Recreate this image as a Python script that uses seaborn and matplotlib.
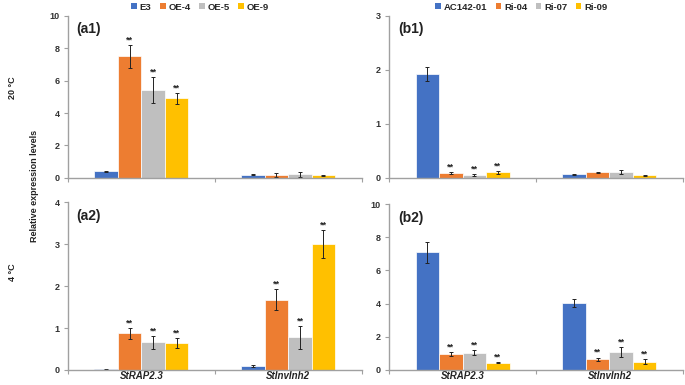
import numpy as np
import pandas as pd
import seaborn as sns
import matplotlib.pyplot as plt
from matplotlib.patches import Patch

sns.set_theme(style="white")
plt.rcParams['font.family'] = ['Liberation Sans', 'DejaVu Sans']

genes = ["StRAP2.3", "StInvInh2"]
lines_a = ["E3", "OE-4", "OE-5", "OE-9"]
lines_b = ["AC142-01", "Ri-04", "Ri-07", "Ri-09"]
colors = ["#4472C4", "#ED7D31", "#BFBFBF", "#FFC000"]

# values[line] = [StRAP2.3, StInvInh2]
a1_mean = {"E3": [0.40, 0.20], "OE-4": [7.50, 0.18], "OE-5": [5.40, 0.22], "OE-9": [4.90, 0.15]}
a1_err = {"E3": [0.05, 0.03], "OE-4": [0.70, 0.15], "OE-5": [0.80, 0.15], "OE-9": [0.35, 0.05]}
a1_sig = {"E3": [False, False], "OE-4": [True, False], "OE-5": [True, False], "OE-9": [True, False]}

a2_mean = {"E3": [0.02, 0.09], "OE-4": [0.87, 1.67], "OE-5": [0.66, 0.78], "OE-9": [0.64, 3.00]}
a2_err = {"E3": [0.01, 0.03], "OE-4": [0.12, 0.25], "OE-5": [0.15, 0.27], "OE-9": [0.12, 0.33]}
a2_sig = {"E3": [False, False], "OE-4": [True, True], "OE-5": [True, True], "OE-9": [True, True]}

b1_mean = {"AC142-01": [1.93, 0.07], "Ri-04": [0.09, 0.10], "Ri-07": [0.06, 0.11], "Ri-09": [0.10, 0.05]}
b1_err = {"AC142-01": [0.13, 0.01], "Ri-04": [0.01, 0.01], "Ri-07": [0.02, 0.03], "Ri-09": [0.03, 0.01]}
b1_sig = {"AC142-01": [False, False], "Ri-04": [True, False], "Ri-07": [True, False], "Ri-09": [True, False]}

b2_mean = {"AC142-01": [7.10, 4.05], "Ri-04": [0.97, 0.65], "Ri-07": [1.05, 1.08], "Ri-09": [0.45, 0.50]}
b2_err = {"AC142-01": [0.63, 0.25], "Ri-04": [0.10, 0.10], "Ri-07": [0.15, 0.30], "Ri-09": [0.05, 0.15]}
b2_sig = {"AC142-01": [False, False], "Ri-04": [True, True], "Ri-07": [True, True], "Ri-09": [True, True]}

fig = plt.figure(figsize=(6.85, 3.85), dpi=100)
pos = {
    "a1": [0.099, 0.538, 0.429, 0.421],
    "b1": [0.568, 0.538, 0.429, 0.421],
    "a2": [0.099, 0.039, 0.429, 0.436],
    "b2": [0.568, 0.039, 0.429, 0.431],
}
spec = {
    "a1": (lines_a, a1_mean, a1_err, a1_sig, 10, 2, True),
    "a2": (lines_a, a2_mean, a2_err, a2_sig, 4, 1, False),
    "b1": (lines_b, b1_mean, b1_err, b1_sig, 3, 1, True),
    "b2": (lines_b, b2_mean, b2_err, b2_sig, 10, 2, False),
}
spine_col = "#A0A0A0"
fs = 6.5
for name, (lines, mean, err, sig, ymax, ystep, top) in spec.items():
    ax = fig.add_axes(pos[name])
    rows = []
    for ln in lines:
        for gi, g in enumerate(genes):
            rows.append({"gene": g, "line": ln, "val": mean[ln][gi]})
    df = pd.DataFrame(rows)
    sns.barplot(data=df, x="gene", y="val", hue="line", order=genes, hue_order=lines,
                palette=colors, saturation=1, width=0.64, errorbar=None, edgecolor="white",
                linewidth=0.5, ax=ax, legend=False)
    for li, (ln, cont) in enumerate(zip(lines, ax.containers)):
        for gi, bar in enumerate(cont):
            cx = bar.get_x() + bar.get_width() / 2
            h = bar.get_height()
            e = err[ln][gi]
            ax.errorbar(cx, h, yerr=e, fmt="none", ecolor="#222222", elinewidth=0.7,
                        capsize=1.6, capthick=0.7)
            if sig[ln][gi]:
                ax.text(cx, h + e + ymax * 0.003, "**", ha="center", va="bottom",
                        fontsize=fs, fontweight="bold", color="#222222")
    ax.set_xlim(-0.5, 1.5)
    ax.set_ylim(0, ymax)
    ticks = np.arange(0, ymax + 0.01, ystep)
    ax.set_yticks(ticks)
    ax.set_yticklabels([f"{int(v)}" for v in ticks],
                       fontsize=fs, fontweight="bold", color="#333333")
    ax.set_xticks([-0.5, 0.5, 1.5], minor=True)
    ax.tick_params(axis="x", which="minor", length=3, width=0.8, color=spine_col, bottom=True)
    ax.tick_params(axis="x", which="major", length=0)
    ax.tick_params(axis="y", which="major", length=3, width=0.8, color=spine_col, left=True, pad=3)
    if top:
        ax.set_xticklabels([])
    else:
        ax.set_xticklabels(genes, fontsize=fs + 0.5, fontweight="bold", fontstyle="italic",
                           color="#222222")
        ax.tick_params(axis="x", which="major", pad=1)
    ax.set_xlabel("")
    ax.set_ylabel("")
    for s in ["top", "right"]:
        ax.spines[s].set_visible(False)
    for s in ["left", "bottom"]:
        ax.spines[s].set_color(spine_col)
        ax.spines[s].set_linewidth(1.0)
    ax.text(0.03, 0.96, f"({name})", transform=ax.transAxes, ha="left", va="top",
            fontsize=10, fontweight="bold", color="#222222")
    if name in ("a1", "b1"):
        handles = [Patch(facecolor=c, edgecolor="none") for c in colors]
        ax.legend(handles, lines, loc="lower center", bbox_to_anchor=(0.45, 1.0),
                  ncol=4, frameon=False, prop={"weight": "bold", "size": fs + 0.3},
                  handlelength=0.6, handleheight=0.6, handletextpad=0.3, columnspacing=0.9,
                  borderaxespad=0.05)

fig.text(0.018, 1 - 88 / 385, "20 °C", rotation=90, ha="center", va="center",
         fontsize=fs, fontweight="bold", color="#222222")
fig.text(0.018, 1 - 272 / 385, "4 °C", rotation=90, ha="center", va="center",
         fontsize=fs, fontweight="bold", color="#222222")
fig.text(0.051, 1 - 186 / 385, "Relative expression levels", rotation=90, ha="center",
         va="center", fontsize=fs, fontweight="bold", color="#222222")

fig.savefig("out.png", dpi=100)
